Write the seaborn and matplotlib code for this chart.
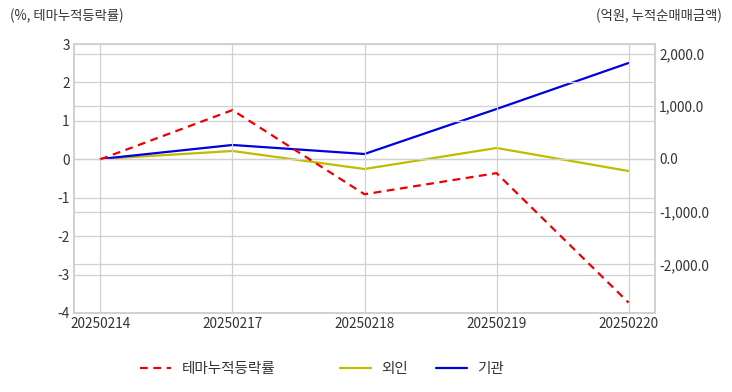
import matplotlib
matplotlib.use("Agg")
import matplotlib.pyplot as plt
import matplotlib.ticker as mticker
from matplotlib.lines import Line2D
import seaborn as sns
import pandas as pd

dates = ["20250214", "20250217", "20250218", "20250219", "20250220"]
theme_pct = [0.0, 1.28, -0.91, -0.36, -3.73]
foreign = [0.0, 152.0, -190.0, 209.0, -228.0]
institution = [0.0, 266.0, 95.0, 949.0, 1822.0]
series_names = ["테마누적등락률", "외인", "기관"]

sns.set_style("white")
plt.rcParams['font.family'] = ['Noto Sans CJK KR', 'DejaVu Sans']
plt.rcParams['axes.unicode_minus'] = False

df = pd.DataFrame({"x": range(len(dates)), "theme": theme_pct,
                   "foreign": foreign, "inst": institution})

fig = plt.figure(figsize=(7.32, 3.92), dpi=100)
ax = fig.add_axes([74 / 732, 1 - 313 / 392, (655 - 74) / 732, (313 - 44) / 392])
ax2 = ax.twinx()

grid_c = "#d0d0d0"
text_c = "#333333"
red, olive, blue = "#ee0000", "#c0bc00", "#0000e0"
dash = (0, (3.5, 2.5))

sns.lineplot(data=df, x="x", y="theme", ax=ax, color=red, linewidth=1.6, linestyle=dash)
sns.lineplot(data=df, x="x", y="foreign", ax=ax2, color=olive, linewidth=1.6)
sns.lineplot(data=df, x="x", y="inst", ax=ax2, color=blue, linewidth=1.6)

ax.set_xlim(-0.2, 4.2)
ax.set_ylim(-4, 3)
ax.set_yticks(range(-4, 4))
ax2.set_ylim(-2922, 2182)
ax2.set_yticks([-2000, -1000, 0, 1000, 2000])
ax2.yaxis.set_major_formatter(mticker.FuncFormatter(lambda v, p: f"{v:,.1f}"))

ax.set_xticks(range(len(dates)))
ax.set_xticklabels(dates)

for a in (ax, ax2):
    a.set_xlabel("")
    a.set_ylabel("")
    a.tick_params(length=0, labelsize=9.8, colors=text_c, pad=3)
    for s in a.spines.values():
        s.set_color(grid_c)
        s.set_linewidth(1.2)

ax.grid(True, color=grid_c, linewidth=0.9)
ax.set_axisbelow(True)
ax2.yaxis.grid(True, color=grid_c, linewidth=0.9)
ax2.set_axisbelow(True)
ax.set_zorder(ax2.get_zorder() + 1)
ax.patch.set_visible(False)

fig.text(10 / 732, 1 - 16 / 392, "(%, 테마누적등락률)", fontsize=9.6, color=text_c,
         ha="left", va="center")
fig.text(722 / 732, 1 - 16 / 392, "(억원, 누적순매매금액)", fontsize=9.6, color=text_c,
         ha="right", va="center")

# legend entries placed one by one (uneven spacing in the original)
entries = [
    (Line2D([], [], color=red, linewidth=1.6, linestyle=dash), series_names[0], 140),
    (Line2D([], [], color=olive, linewidth=1.6), series_names[1], 340),
    (Line2D([], [], color=blue, linewidth=1.6), series_names[2], 436),
]
for h, lab, x0 in entries:
    fig.legend([h], [lab], loc="center left", bbox_to_anchor=(x0 / 732, 1 - 369 / 392),
               frameon=False, fontsize=10.5, handlelength=2.1, handletextpad=0.75,
               borderpad=0, borderaxespad=0, labelcolor=text_c)

fig.savefig("out.png", dpi=100)
